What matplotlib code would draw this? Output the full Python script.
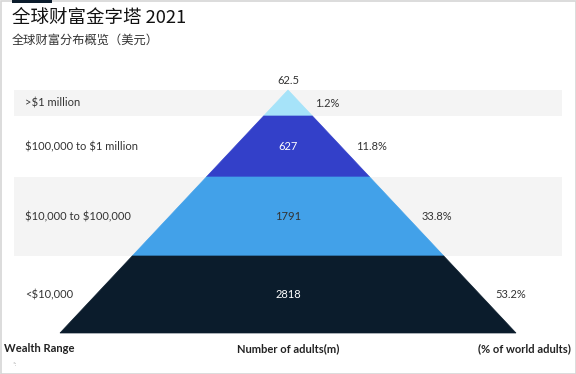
import matplotlib
matplotlib.use("Agg")
import matplotlib.pyplot as plt
from matplotlib.patches import Polygon, Rectangle

plt.rcParams["text.parse_math"] = False

# ---- data ----
categories = [">$1 million", "$100,000 to $1 million", "$10,000 to $100,000", "<$10,000"]
adults_m = ["62.5", "627", "1791", "2818"]
pct_world = ["1.2%", "11.8%", "33.8%", "53.2%"]
title = "全球财富金字塔 2021"
subtitle = "全球财富分布概览（美元）"
col_headers = ["Wealth Range", "Number of adults(m)", "(% of world adults)"]

# ---- layout / style ----
colors = ["#a6e3f9", "#3340c9", "#42a1e9", "#0b1c2c"]
value_colors = ["#333333", "white", "#333333", "white"]
band_edges = [90, 116, 177, 256, 333]   # pixel rows
band_bg = ["#f4f4f4", "white", "#f4f4f4", "white"]
apex_x, apex_y = 288, 90
bottom_half = 228
W, H = 576, 374

fig = plt.figure(figsize=(W / 100, H / 100), dpi=100)
ax = fig.add_axes([0, 0, 1, 1])
ax.set_xlim(0, W)
ax.set_ylim(H, 0)
ax.axis("off")

cjk = ["Noto Sans CJK SC", "DejaVu Sans"]
lat = ["Lato", "DejaVu Sans"]
fs = 8.0

# border and top accent
ax.add_patch(Rectangle((0.5, 0.5), W - 1, H - 1, fill=False, ec="#d6d6d6", lw=1.2))
ax.add_patch(Rectangle((12, 0), 40, 3, fc="#0b1c2c", ec="none"))

ax.text(12, 18, title, family=cjk, fontsize=13.3, color="#111111", va="center", ha="left")
ax.text(12, 40, subtitle, family=cjk, fontsize=8.8, color="#333333", va="center", ha="left")

total_h = band_edges[-1] - apex_y

def half_w(y):
    return bottom_half * (y - apex_y) / total_h

for i, cat in enumerate(categories):
    y0, y1 = band_edges[i], band_edges[i + 1]
    ax.add_patch(Rectangle((14, y0), 548, y1 - y0, fc=band_bg[i], ec="none", zorder=1))
    hw0, hw1 = half_w(y0), half_w(y1)
    poly = Polygon([(apex_x - hw0, y0), (apex_x + hw0, y0), (apex_x + hw1, y1), (apex_x - hw1, y1)],
                   closed=True, fc=colors[i], ec=colors[i], lw=0.5, zorder=2)
    ax.add_patch(poly)
    ym = (y0 + y1) / 2
    ax.text(25, ym, cat, family=lat, fontsize=fs, color="#333333", va="center", ha="left", zorder=3)
    if i == 0:
        ax.text(apex_x, apex_y - 10, adults_m[i], family=lat, fontsize=fs, color="#333333",
                va="center", ha="center", zorder=3)
    else:
        ax.text(apex_x, ym, adults_m[i], family=lat, fontsize=fs, color=value_colors[i],
                va="center", ha="center", zorder=3)
    ax.text(apex_x + half_w(ym) + 15, ym, pct_world[i], family=lat, fontsize=fs, color="#333333",
            va="center", ha="left", zorder=3)

ax.text(4, 349, col_headers[0], family=lat, fontsize=fs, fontweight="bold", color="#222222",
        va="center", ha="left")
ax.text(288, 349, col_headers[1], family=lat, fontsize=fs, fontweight="bold", color="#222222",
        va="center", ha="center")
ax.text(571, 349, col_headers[2], family=lat, fontsize=fs, fontweight="bold", color="#222222",
        va="center", ha="right")
ax.text(13, 364, "*:", family=lat, fontsize=4.5, color="#aaaaaa", va="center", ha="left")

fig.savefig("out.png", dpi=100)
